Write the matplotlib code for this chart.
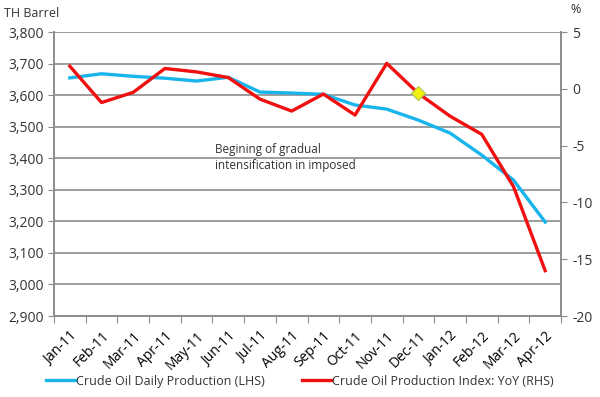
import matplotlib.pyplot as plt
import numpy as np

months = ['Jan-11', 'Feb-11', 'Mar-11', 'Apr-11', 'May-11', 'Jun-11', 'Jul-11', 'Aug-11',
          'Sep-11', 'Oct-11', 'Nov-11', 'Dec-11', 'Jan-12', 'Feb-12', 'Mar-12', 'Apr-12']
production = [3655, 3668, 3660, 3654, 3645, 3657, 3610, 3607,
              3603, 3569, 3556, 3521, 3480, 3410, 3331, 3198]
yoy = [2.0, -1.2, -0.3, 1.8, 1.5, 1.0, -0.9, -1.95,
       -0.45, -2.3, 2.25, -0.4, -2.4, -4.0, -8.6, -16.0]
left_ticks = [2900, 3000, 3100, 3200, 3300, 3400, 3500, 3600, 3700, 3800]
right_ticks = [5, 0, -5, -10, -15, -20]
marker_month = 'Dec-11'

blue = '#18b4ec'
red = '#f01010'
grey = '#8c8c8c'
plt.rcParams['font.family'] = ['Open Sans', 'DejaVu Sans']
plt.rcParams['axes.unicode_minus'] = False

fig = plt.figure(figsize=(6, 3.97), dpi=100)
ax = fig.add_axes([0.09, 0.204, 0.845, 0.715])
ax2 = ax.twinx()

x = np.arange(len(months))
ax.plot(x, production, color=blue, lw=2.4, zorder=3)
ax2.plot(x, yoy, color=red, lw=2.4, zorder=3)
i = months.index(marker_month)
ax2.plot(x[i], yoy[i], marker='D', ms=7, color='#f0f010', mec='#b0c060', mew=0.8, zorder=4)

ax.set_xlim(-0.5, len(months) - 0.5)
ax.set_ylim(2900, 3800)
ax.set_yticks(left_ticks)
ax.set_yticklabels([f'{v:,}' for v in left_ticks])
ax.grid(axis='y', color=grey, lw=1.2)
ax.set_axisbelow(True)
ax2.set_ylim(-20, 5)
ax2.set_yticks(right_ticks)

ax.set_xticks(np.arange(len(months) + 1) - 0.5)
ax.set_xticklabels([])
ax.set_xticks(x, minor=True)
ax.set_xticklabels(months, minor=True, rotation=45, ha='right', va='top',
                   rotation_mode='anchor')
ax.tick_params(axis='x', which='minor', length=0, pad=9)
ax.tick_params(axis='x', which='major', length=5, color=grey)

for a in (ax, ax2):
    a.spines['top'].set_visible(False)
    for s in ('left', 'right', 'bottom'):
        a.spines[s].set_color(grey)
        a.spines[s].set_linewidth(1.2)
    a.tick_params(axis='y', length=4, color=grey, labelsize=10, labelcolor='#333333')
    a.tick_params(axis='x', labelsize=9, labelcolor='#333333')
ax2.tick_params(axis='y', pad=4)

fig.text(0.007, 0.965, 'TH Barrel', fontsize=9, color='#333333', va='center')
fig.text(0.95, 0.975, '%', fontsize=9, color='#333333', va='center')
ax.text(0.318, 0.56, 'Begining of gradual\nintensification in imposed', transform=ax.transAxes,
        fontsize=8.5, color='#333333', va='center', linespacing=1.3)

fig.legend(handles=[plt.Line2D([], [], color=blue, lw=2.4),
                    plt.Line2D([], [], color=red, lw=2.4)],
           labels=['Crude Oil Daily Production (LHS)', 'Crude Oil Production Index: YoY (RHS)'],
           loc='lower center', bbox_to_anchor=(0.5, -0.005), ncol=2, frameon=False,
           fontsize=9, handlelength=2.3, handletextpad=0.1, columnspacing=3.0,
           labelcolor='#333333')

fig.savefig('out.png', dpi=100)
